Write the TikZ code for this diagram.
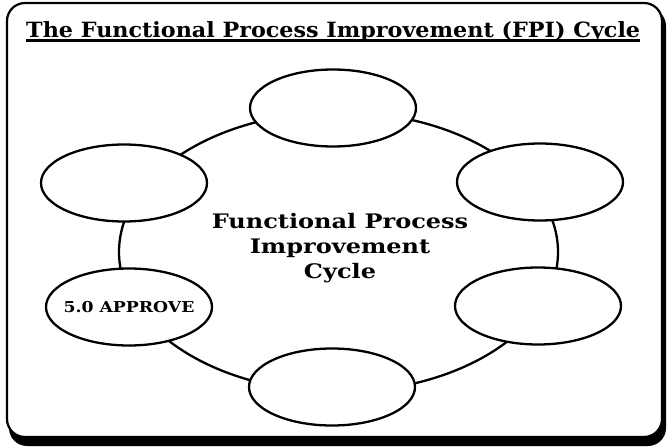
\documentclass[tikz,border=0pt]{standalone}
\usepackage{fontspec}
\setmainfont{DejaVu Serif}
\newfontfamily\titlefont[FakeStretch=1.06]{DejaVu Serif}
\newfontfamily\widefont[FakeStretch=1.2]{DejaVu Serif}
\newfontfamily\phasefont[FakeStretch=1.15]{DejaVu Serif}
\usetikzlibrary{shapes.geometric}
\begin{document}
\begin{tikzpicture}[x=1pt,y=-1pt,
  phase/.style={draw, ellipse, line width=2.3pt, fill=white, minimum width=166pt, minimum height=77pt, inner sep=0pt},
  cyclepath/.style={line width=2.3pt},
  titletext/.style={font=\titlefont\bfseries\fontsize{21}{24}\selectfont, inner sep=0pt, anchor=base west},
  centertext/.style={font=\widefont\bfseries\fontsize{20}{25}\selectfont, align=center, inner sep=0pt},
  phasetext/.style={font=\phasefont\bfseries\fontsize{15}{17}\selectfont, inner xsep=-10pt}]
\useasboundingbox (0,0) rectangle (667,447);
% frame with shadow
\fill[rounded corners=18pt] (9,8) rectangle (666,446);
\draw[rounded corners=18pt, fill=white, line width=2.2pt] (7,3) rectangle (662,437);
% title
\node[titletext] (title) at (26,37) {The Functional Process Improvement (FPI) Cycle};
\draw[line width=2.2pt] ([yshift=-3.5pt]title.base west) -- ([yshift=-3.5pt]title.base east);
% cycle
\draw[cyclepath] (338.5,252) ellipse [x radius=219.5pt, y radius=140pt];
% phases
\node[phase] (top) at (333,108) {};
\node[phase] (rup) at (540,182) {};
\node[phase] (rlo) at (538,306) {};
\node[phase] (bot) at (332,387) {};
\node[phase, phasetext] (llo) at (129,307) {5.0 APPROVE};
\node[phase] (lup) at (124,183) {};
% centre text
\node[centertext] (centre) at (340,248) {Functional Process\\Improvement\\Cycle};
\end{tikzpicture}
\end{document}
